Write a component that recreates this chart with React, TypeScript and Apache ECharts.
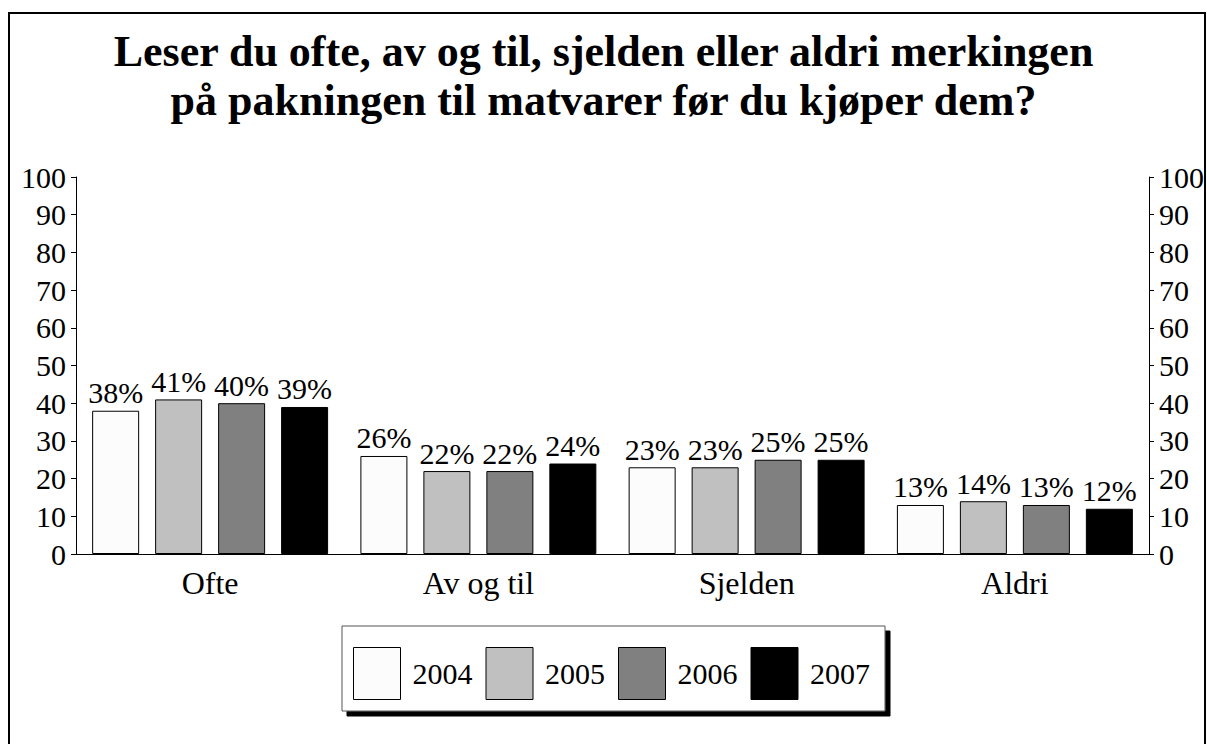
import React, { useEffect, useRef } from "react";
import * as echarts from "echarts";

const categories = ["Ofte", "Av og til", "Sjelden", "Aldri"];
const years = ["2004", "2005", "2006", "2007"];
const values2004 = [38, 26, 23, 13];
const values2005 = [41, 22, 23, 14];
const values2006 = [40, 22, 25, 13];
const values2007 = [39, 24, 25, 12];
const colors = ["#fcfcfc", "#c0c0c0", "#808080", "#000000"];
const titleText = "Leser du ofte, av og til, sjelden eller aldri merkingen\npå pakningen til matvarer før du kjøper dem?";

const FONT = "Liberation Serif";

export default function App() {
  const ref = useRef<HTMLDivElement>(null);
  useEffect(() => {
    if (!ref.current) return;
    const chart = echarts.init(ref.current, null, { renderer: "svg" });
    const seriesData = [values2004, values2005, values2006, values2007];
    const yAxisCommon = {
      type: "value",
      min: 0,
      max: 100,
      interval: 10,
      axisLine: { show: true, lineStyle: { color: "#000", width: 1 } },
      axisTick: { show: true, length: 5, lineStyle: { color: "#000" } },
      splitLine: { show: false },
      axisLabel: { color: "#000", fontFamily: FONT, fontSize: 30, margin: 10 },
    };
    chart.setOption({
      animation: false,
      backgroundColor: "#fff",
      textStyle: { fontFamily: FONT },
      title: {
        text: titleText,
        left: "center",
        top: 22,
        textStyle: {
          fontFamily: FONT,
          fontSize: 44,
          fontWeight: "bold",
          color: "#000",
          lineHeight: 49,
        },
      },
      graphic: [
        {
          type: "rect",
          shape: { x: 9, y: 13, width: 1196, height: 1000 },
          style: { fill: "none", stroke: "#000", lineWidth: 2 },
          silent: true,
          z: 100,
        },
      ],
      legend: {
        left: 342,
        top: 626,
        orient: "horizontal",
        data: years,
        itemWidth: 47,
        itemHeight: 52,
        itemGap: 13,
        padding: [21, 15, 11, 11],
        backgroundColor: "#fff",
        borderColor: "#555",
        borderWidth: 1,
        shadowColor: "#000",
        shadowBlur: 0,
        shadowOffsetX: 5,
        shadowOffsetY: 5,
        icon: "rect",
        itemStyle: { borderColor: "#000", borderWidth: 1 },
        textStyle: {
          fontFamily: FONT,
          fontSize: 30,
          color: "#000",
          padding: [0, 0, 0, 7],
        },
      },
      grid: { left: 76, right: 57, top: 177, bottom: 190, containLabel: false },
      xAxis: {
        type: "category",
        data: categories,
        axisLine: { show: true, lineStyle: { color: "#000", width: 1 } },
        axisTick: { show: false },
        axisLabel: { color: "#000", fontFamily: FONT, fontSize: 32, margin: 13 },
      },
      yAxis: [
        { ...yAxisCommon, position: "left" },
        { ...yAxisCommon, position: "right" },
      ],
      series: years.map((y, i) => ({
        name: y,
        type: "bar",
        yAxisIndex: 0,
        data: seriesData[i],
        barWidth: 47,
        barGap: "34%",
        itemStyle: { color: colors[i], borderColor: "#000", borderWidth: 1 },
        label: {
          show: true,
          position: "top",
          distance: 3,
          formatter: "{c}%",
          fontFamily: FONT,
          fontSize: 30,
          color: "#000",
        },
      })),
    });
    return () => chart.dispose();
  }, []);
  return (
    <div
      ref={ref}
      style={{ position: "fixed", left: 0, top: 0, width: 1207, height: 744 }}
    />
  );
}
